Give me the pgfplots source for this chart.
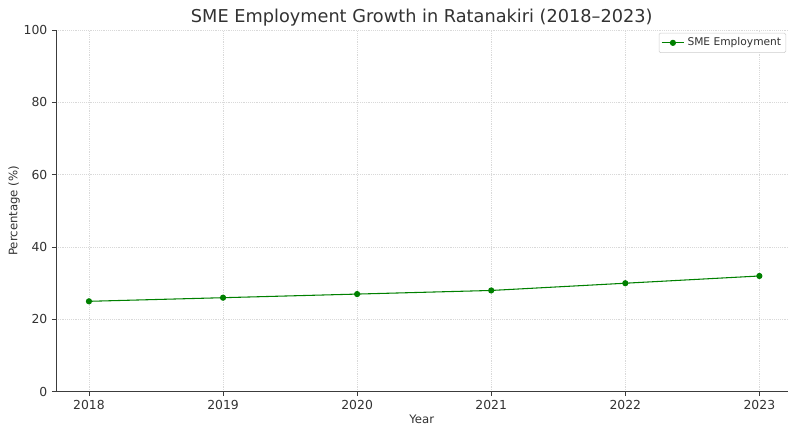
\documentclass[border=0pt]{standalone}
\usepackage{pgfplots}
\pgfplotsset{compat=1.18}
\usepackage{fontspec}
\setmainfont{DejaVu Sans}
\definecolor{linegreen}{RGB}{0,128,0}
\definecolor{spine}{RGB}{60,60,60}
\definecolor{txt}{RGB}{50,50,50}
\begin{document}
\begin{tikzpicture}
\begin{axis}[
    name=main,
    scale only axis,
    width=549pt, height=271.5pt,
    xmin=2017.754, xmax=2023.21,
    ymin=0, ymax=100,
    xtick={2018,2019,2020,2021,2022,2023},
    ytick={0,20,40,60,80,100},
    /pgf/number format/assume math mode=true,
    x tick label style={/pgf/number format/1000 sep={}, font=\fontsize{9.3}{11}\selectfont, text=txt},
    y tick label style={font=\fontsize{9.3}{11}\selectfont, text=txt},
    axis x line*=bottom, axis y line*=left,
    axis line style={spine, line width=0.7pt},
    tick align=outside,
    major tick length=3pt,
    tick style={spine, line width=0.6pt},
    xmajorgrids, ymajorgrids,
    grid style={densely dotted, gray!30, line width=0.4pt},
    title={SME Employment Growth in Ratanakiri (2018–2023)},
    title style={font=\fontsize{13.3}{15}\selectfont, text=txt, yshift=-7pt},
    xlabel={Year}, ylabel={Percentage (\%)},
    xlabel style={font=\fontsize{8.8}{10}\selectfont, text=txt, yshift=3pt},
    ylabel style={font=\fontsize{8.8}{10}\selectfont, text=txt, yshift=-4pt},
    legend style={at={(0.998,0.992)}, anchor=north east, font=\fontsize{8}{9}\selectfont,
        draw=gray!40, rounded corners=1pt, inner sep=1.5pt, text=txt},
    legend cell align=left,
]
\addplot[color=linegreen, line width=0.8pt, mark=*, mark size=1.9pt, mark options={fill=linegreen}]
coordinates {
    (2018,25)(2019,26)(2020,27)(2021,28)(2022,30)(2023,32)
};
\addlegendentry{SME Employment}
\end{axis}
% page margins around the axis, as in the reference
\path ([shift={(-42pt,-22.5pt)}]main.south west) rectangle ([shift={(0pt,22.5pt)}]main.north east);
\end{tikzpicture}
\end{document}
